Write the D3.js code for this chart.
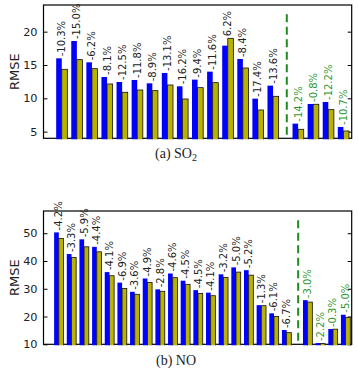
<!DOCTYPE html>
<meta charset="utf-8">
<script src="https://d3js.org/d3.v7.min.js"></script>
<style>
  body { margin: 0; background: #fff; }
  text { font-family: "DejaVu Sans", sans-serif; }
</style>
<div id="chart"></div>
<script>

// (a) SO2
var so2Labels = ["-10.3%", "-15.0%", "-6.2%", "-8.1%", "-12.5%", "-11.8%", "-8.9%", "-13.1%",
                 "-16.2%", "-9.4%", "-11.6%", "6.2%", "-8.4%", "-17.4%", "-13.6%",
                 "-14.2%", "-0.8%", "-12.2%", "-10.7%"];
var so2Blue  = [16.0, 18.6, 15.4, 13.2, 12.45, 12.75, 12.25, 13.8, 11.8, 12.8, 14.0, 17.9, 15.9, 9.95, 11.9,
                6.2, 9.15, 9.45, 5.7];
var so2Olive = [14.35, 15.8, 14.45, 12.15, 10.9, 11.25, 11.15, 12.0, 9.9, 11.6, 12.35, 19.0, 14.55, 8.25, 10.3,
                5.35, 9.1, 8.3, 5.1];
var so2Ticks = [5, 10, 15, 20];
var so2Split = 15;   // groups after this sit right of the dashed line

// (b) NO
var noLabels = ["-4.2%", "-3.3%", "-5.9%", "-4.4%", "-4.1%", "-6.9%", "-3.6%", "-4.9%", "-2.8%", "-4.6%",
                "-4.5%", "-4.5%", "-4.1%", "-3.2%", "-5.0%", "-5.2%", "-1.3%", "-6.1%", "-6.7%",
                "-3.0%", "-2.2%", "-0.3%", "-5.0%"];
var noBlue  = [50.3, 42.5, 47.8, 45.1, 36.0, 32.2, 28.9, 33.7, 29.8, 35.5,
               32.9, 29.5, 28.6, 35.2, 37.7, 36.7, 24.1, 21.15, 15.15,
               25.9, 10.45, 15.5, 20.65];
var noOlive = [48.1, 41.3, 45.1, 43.3, 34.7, 30.1, 28.0, 32.3, 29.1, 34.0,
               31.6, 28.3, 27.5, 34.1, 36.0, 34.9, 23.9, 20.0, 14.2,
               25.2, 10.25, 15.45, 19.7];
var noTicks = [10, 20, 30, 40, 50];
var noSplit = 19;

var W = 358, H = 369;
var svg = d3.select("#chart").append("svg")
  .attr("width", W)
  .attr("height", H);

var barW = 0.37;      // bar width in group-slot units
var gapExtra = 0.66;  // extra space for the dashed separator

function drawPanel(cfg) {
  var n = cfg.blue.length;
  var pos = function(i) { return i < cfg.split ? i : i + gapExtra; };

  var x = d3.scaleLinear()
    .domain([-0.84, pos(n - 1) + cfg.padR])
    .range([43.5, 351.7]);
  var y = d3.scaleLinear()
    .domain(cfg.yDomain)
    .range([cfg.bottom, cfg.top]);

  var g = svg.append("g");

  var clipId = "clip" + cfg.id;
  g.append("clipPath").attr("id", clipId)
    .append("rect")
      .attr("x", x.range()[0]).attr("y", cfg.top)
      .attr("width", x.range()[1] - x.range()[0])
      .attr("height", cfg.bottom - cfg.top + 1);

  // frame
  g.append("rect")
    .attr("x", x.range()[0]).attr("y", cfg.top)
    .attr("width", x.range()[1] - x.range()[0])
    .attr("height", cfg.bottom - cfg.top)
    .attr("fill", "none")
    .attr("stroke", "#000")
    .attr("stroke-width", 1.2);

  // inward ticks, left with labels, right without
  var yl = g.append("g")
    .attr("transform", "translate(" + x.range()[0] + ",0)")
    .call(d3.axisLeft(y).tickValues(cfg.ticks).tickSizeInner(-4).tickSizeOuter(0).tickPadding(6));
  var yr = g.append("g")
    .attr("transform", "translate(" + x.range()[1] + ",0)")
    .call(d3.axisRight(y).tickValues(cfg.ticks).tickSizeInner(-4).tickSizeOuter(0).tickFormat(""));
  [yl, yr].forEach(function(a) {
    a.select(".domain").remove();
    a.selectAll("line").attr("stroke", "#000");
    a.selectAll("text")
      .style("font-family", "DejaVu Sans, sans-serif")
      .style("font-size", "11.3px")
      .attr("fill", "#222");
  });

  g.append("text")
    .attr("transform", "translate(14," + ((cfg.top + cfg.bottom) / 2) + ")rotate(-90)")
    .attr("text-anchor", "middle")
    .attr("dy", "0.35em")
    .style("font-size", "13px")
    .attr("fill", "#222")
    .text("RMSE");

  var idx = d3.range(n);
  var bars = g.append("g").attr("clip-path", "url(#" + clipId + ")");

  bars.selectAll(".blue").data(idx).enter().append("rect")
    .attr("class", "blue")
    .attr("x", function(i) { return x(pos(i)); })
    .attr("width", function(i) { return x(pos(i) + barW) - x(pos(i)); })
    .attr("y", function(i) { return y(cfg.blue[i]); })
    .attr("height", function(i) { return cfg.bottom + 2 - y(cfg.blue[i]); })
    .attr("fill", "#0000ff");

  bars.selectAll(".olive").data(idx).enter().append("rect")
    .attr("class", "olive")
    .attr("x", function(i) { return x(pos(i) + barW); })
    .attr("width", function(i) { return x(pos(i) + 2 * barW) - x(pos(i) + barW); })
    .attr("y", function(i) { return y(cfg.olive[i]); })
    .attr("height", function(i) { return cfg.bottom + 2 - y(cfg.olive[i]); })
    .attr("fill", "#b9b200")
    .attr("stroke", "#111")
    .attr("stroke-width", 0.8);

  // dashed separator
  var sx = x(pos(cfg.split - 1) + 1.28);
  g.append("line")
    .attr("x1", sx).attr("x2", sx)
    .attr("y1", cfg.bottom - 0.93 * (cfg.bottom - cfg.top))
    .attr("y2", cfg.bottom)
    .attr("stroke", "#1e8c1e")
    .attr("stroke-width", 2)
    .attr("stroke-dasharray", "8,4.5");

  // percentage labels
  g.selectAll(".pct").data(idx).enter().append("text")
    .attr("class", "pct")
    .attr("transform", function(i) {
      var cx = x(pos(i) + barW);
      var top = y(Math.max(cfg.blue[i], cfg.olive[i])) - 2;
      return "translate(" + cx + "," + top + ")rotate(-90)";
    })
    .attr("dy", "0.35em")
    .attr("text-anchor", "start")
    .style("font-size", "10px")
    .attr("fill", function(i) { return i < cfg.split ? "#222" : "#2e962e"; })
    .text(function(i) { return cfg.labels[i]; });

  // caption
  var cap = g.append("text")
    .attr("x", 176)
    .attr("y", cfg.capY)
    .attr("text-anchor", "middle")
    .style("font-family", "Liberation Serif, serif")
    .style("font-size", "14px")
    .attr("fill", "#222");
  cap.append("tspan").text(cfg.caption);
  if (cfg.sub) {
    cap.append("tspan").attr("dy", 3).style("font-size", "10px").text(cfg.sub);
  }
}

drawPanel({
  id: "a", blue: so2Blue, olive: so2Olive, labels: so2Labels, ticks: so2Ticks,
  split: so2Split, yDomain: [4, 24], top: 5, bottom: 138.3, padR: 0.92,
  caption: "(a) SO", sub: "2", capY: 158
});

drawPanel({
  id: "b", blue: noBlue, olive: noOlive, labels: noLabels, ticks: noTicks,
  split: noSplit, yDomain: [10, 58], top: 211, bottom: 344.3, padR: 0.85,
  caption: "(b) NO", sub: null, capY: 365
});

</script>
